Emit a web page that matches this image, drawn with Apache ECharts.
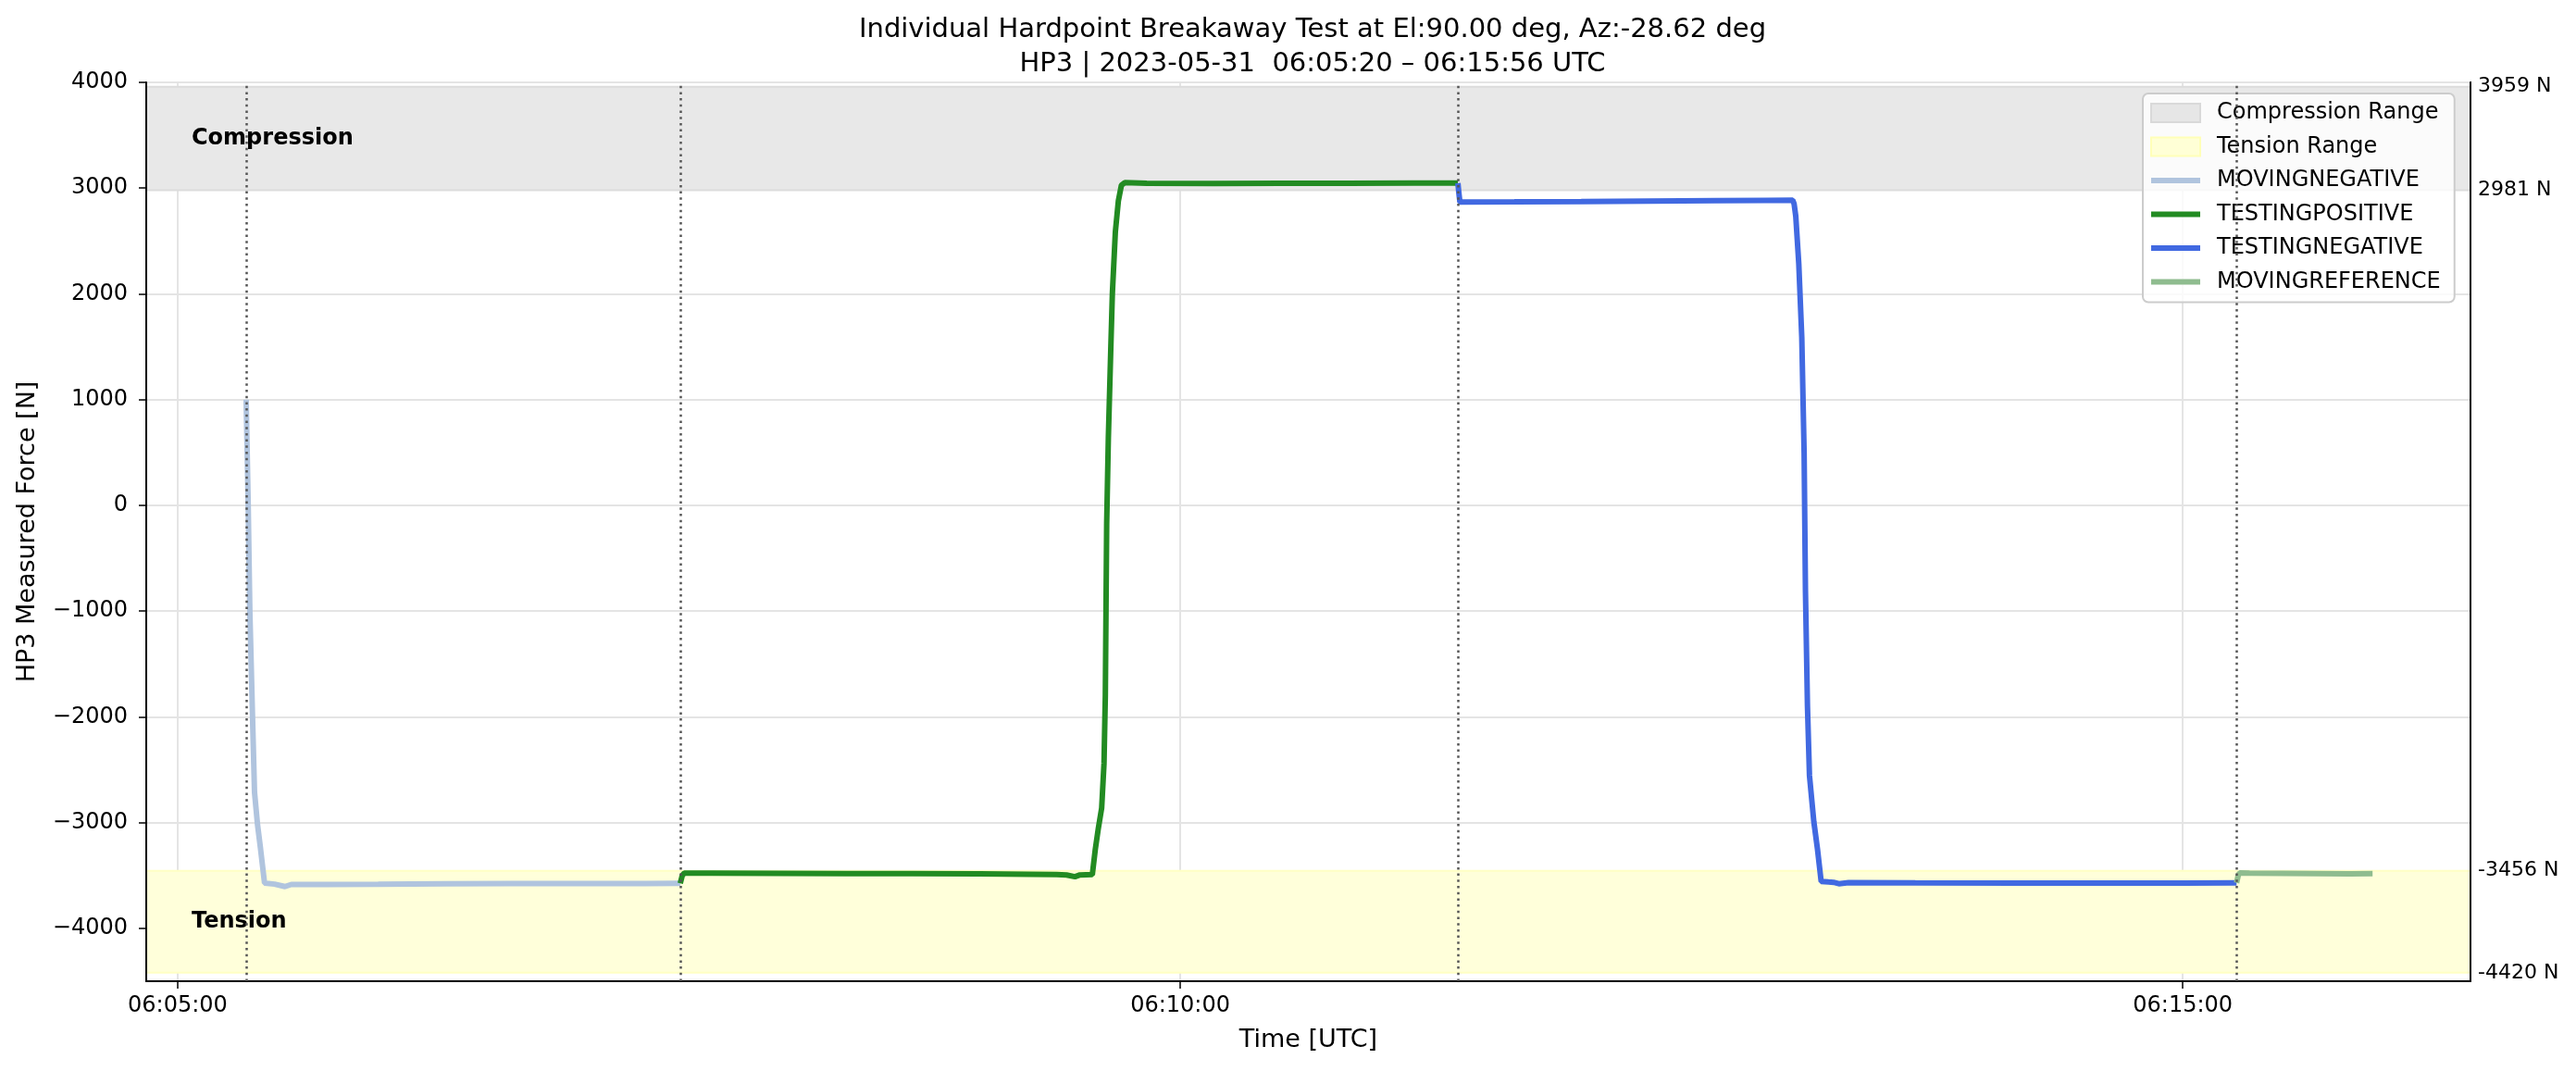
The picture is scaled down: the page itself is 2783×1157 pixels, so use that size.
<!DOCTYPE html>
<html><head><meta charset="utf-8">
<script src="https://cdn.jsdelivr.net/npm/echarts@6/dist/echarts.min.js"></script>
<style>html,body{margin:0;padding:0;background:#fff}#c{width:2783px;height:1157px}</style>
</head><body><div id="c"></div>
<script>
// Time values are seconds after 06:05:00 UTC
const baseClock = '06:05:00';
const xTicks = [0, 300, 600];
const yTicks = [-4000, -3000, -2000, -1000, 0, 1000, 2000, 3000, 4000];
const rangeLabels = [3959, 2981, -3456, -4420];
const compressionRange = [2981, 3959];
const tensionRange = [-4420, -3456];
const phaseBounds = [20.5, 150.4, 383.1, 616.1];

const movingNegT = [20.5, 21.1, 21.6, 22.4, 23.0, 23.9, 24.8, 26.0, 29, 32.1, 34, 45, 60, 80, 100, 120, 140, 150.4];
const movingNegF = [1000, 21, -1004, -1995, -2713, -3020, -3248, -3572, -3582, -3605, -3585, -3585, -3583, -3578, -3576, -3577, -3576, -3575];

const testPosT = [150.4, 151.0, 151.6, 160, 180, 200, 220, 240, 255, 263, 266, 268.5, 270, 273.7, 274.6, 275.5, 276.5, 277.2, 277.6, 277.8, 278.0, 278.5, 279.2, 279.7, 280.6, 281.5, 282.4, 283.4, 290, 310, 330, 350, 370, 383.1];
const testPosF = [-3575, -3500, -3478, -3478, -3480, -3482, -3483, -3485, -3488, -3492, -3496, -3512, -3495, -3492, -3252, -3055, -2862, -2442, -1793, -978, -172, 639, 1450, 2004, 2589, 2881, 3027, 3052, 3045, 3044, 3045, 3046, 3047, 3047];

const testNegT = [383.1, 383.4, 383.7, 400, 420, 440, 460, 475, 483.3, 483.7, 484.2, 485.1, 486.0, 486.7, 487.1, 487.7, 488.3, 489.6, 490.7, 491.8, 494, 495.5, 497.1, 500, 520, 550, 580, 600, 616.1];
const testNegF = [3047, 2950, 2868, 2870, 2873, 2878, 2882, 2884, 2885, 2853, 2735, 2287, 1590, 499, -810, -1898, -2554, -2990, -3252, -3557, -3562, -3565, -3578, -3568, -3570, -3572, -3572, -3572, -3570];

const movingRefT = [616.1, 616.6, 617.0, 620, 630, 640, 650, 656.8];
const movingRefF = [-3570, -3500, -3476, -3478, -3480, -3482, -3484, -3482];

const FONT = 'DejaVu Sans';
const LINE_ICON = 'path://M0,0L53,0L53,6L0,6Z';
function zip(a, b) { return a.map((v, i) => [v, b[i]]); }
function clock(t) {
  const p = baseClock.split(':').map(Number);
  let s = Math.round(p[0] * 3600 + p[1] * 60 + p[2] + t);
  const h = Math.floor(s / 3600), m = Math.floor((s % 3600) / 60), ss = s % 60;
  const f = n => String(n).padStart(2, '0');
  return f(h) + ':' + f(m) + ':' + f(ss);
}

const chart = echarts.init(document.getElementById('c'), null, {renderer: 'canvas'});
const option = {
  animation: false,
  backgroundColor: '#fff',
  textStyle: {fontFamily: FONT},
  title: {
    text: 'Individual Hardpoint Breakaway Test at El:90.00 deg, Az:-28.62 deg\nHP3 | 2023-05-31  06:05:20 – 06:15:56 UTC',
    left: 1413, top: 9, textAlign: 'center',
    textStyle: {fontFamily: FONT, fontSize: 29, fontWeight: 'normal', color: '#000', lineHeight: 37, align: 'center'}
  },
  grid: {left: 158, top: 89, width: 2511, height: 971, show: true, borderColor: '#000', borderWidth: 2, backgroundColor: 'transparent', containLabel: false},
  legend: {
    orient: 'vertical', left: 2315, top: 101,
    padding: [9, 15, 10, 8],
    itemWidth: 53, itemHeight: 20, itemGap: 12.5,
    backgroundColor: 'rgba(255,255,255,0.8)', borderColor: '#cccccc', borderWidth: 2, borderRadius: 6,
    selectedMode: false,
    textStyle: {fontFamily: FONT, fontSize: 24, color: '#000', lineHeight: 24, padding: [0, 0, 0, 13]},
    data: [
      {name: 'Compression Range', icon: 'rect', itemStyle: {color: '#e6e6e6', borderColor: '#d9d9d9', borderWidth: 2}},
      {name: 'Tension Range', icon: 'rect', itemStyle: {color: '#ffffd6', borderColor: '#ffffb8', borderWidth: 2}},
      {name: 'MOVINGNEGATIVE', icon: LINE_ICON, itemStyle: {color: '#b0c4de', borderWidth: 0}},
      {name: 'TESTINGPOSITIVE', icon: LINE_ICON, itemStyle: {color: '#228b22', borderWidth: 0}},
      {name: 'TESTINGNEGATIVE', icon: LINE_ICON, itemStyle: {color: '#4169e1', borderWidth: 0}},
      {name: 'MOVINGREFERENCE', icon: LINE_ICON, itemStyle: {color: '#8fbc8f', borderWidth: 0}}
    ]
  },
  xAxis: {
    type: 'value', min: -9.4, max: 686.1, z: 1,
    axisLine: {show: true, onZero: false, lineStyle: {color: '#000', width: 2}},
    axisTick: {show: true, customValues: xTicks, length: 8, lineStyle: {color: '#000', width: 1.5}},
    axisLabel: {customValues: xTicks, formatter: v => clock(v), fontFamily: FONT, fontSize: 24, color: '#000', margin: 15},
    splitLine: {show: true, lineStyle: {color: '#e4e4e4', width: 2}},
    name: 'Time [UTC]', nameLocation: 'middle', nameGap: 50,
    nameTextStyle: {fontFamily: FONT, fontSize: 27, color: '#000'}
  },
  yAxis: [
    {
      type: 'value', min: -4500, max: 4000, z: 1,
      axisLine: {show: true, onZero: false, lineStyle: {color: '#000', width: 2}},
      axisTick: {show: true, customValues: yTicks, length: 8, lineStyle: {color: '#000', width: 1.5}},
      axisLabel: {customValues: yTicks, formatter: v => (v < 0 ? '\u2212' + Math.abs(v) : String(v)), fontFamily: FONT, fontSize: 24, color: '#000', margin: 20},
      splitLine: {show: true, lineStyle: {color: '#e4e4e4', width: 2}},
      name: 'HP3 Measured Force [N]', nameLocation: 'middle', nameGap: 115, nameRotate: 90,
      nameTextStyle: {fontFamily: FONT, fontSize: 27, color: '#000'}
    },
    {
      type: 'value', min: -4500, max: 4000, position: 'right', z: 1,
      axisLine: {show: true, onZero: false, lineStyle: {color: '#000', width: 2}},
      axisTick: {show: false},
      axisLabel: {customValues: rangeLabels, formatter: v => v + ' N', fontFamily: FONT, fontSize: 22, color: '#000', margin: 8},
      splitLine: {show: false}
    }
  ],
  series: [
    {
      name: 'Compression Range', type: 'line', data: [], z: 0,
      itemStyle: {color: '#e6e6e6'}, lineStyle: {color: '#e6e6e6'},
      markArea: {
        silent: true,
        itemStyle: {color: '#e8e8e8', borderColor: '#dcdcdc', borderWidth: 2},
        label: {show: true, position: 'insideLeft', distance: 50, formatter: 'Compression', fontFamily: FONT, fontSize: 24, fontWeight: 'bold', color: '#000'},
        data: [[{yAxis: compressionRange[0]}, {yAxis: compressionRange[1]}]]
      }
    },
    {
      name: 'Tension Range', type: 'line', data: [], z: 0,
      itemStyle: {color: '#ffffd6'}, lineStyle: {color: '#ffffd6'},
      markArea: {
        silent: true,
        itemStyle: {color: '#ffffda', borderColor: '#ffffc4', borderWidth: 2},
        label: {show: true, position: 'insideLeft', distance: 50, formatter: 'Tension', fontFamily: FONT, fontSize: 24, fontWeight: 'bold', color: '#000'},
        data: [[{yAxis: tensionRange[0]}, {yAxis: tensionRange[1]}]]
      }
    },
    {name: 'MOVINGNEGATIVE', type: 'line', symbol: 'none', z: 2, data: zip(movingNegT, movingNegF),
      itemStyle: {color: '#b0c4de'}, lineStyle: {color: '#b0c4de', width: 6}},
    {name: 'TESTINGPOSITIVE', type: 'line', symbol: 'none', z: 2, data: zip(testPosT, testPosF),
      itemStyle: {color: '#228b22'}, lineStyle: {color: '#228b22', width: 6}},
    {name: 'TESTINGNEGATIVE', type: 'line', symbol: 'none', z: 2, data: zip(testNegT, testNegF),
      itemStyle: {color: '#4169e1'}, lineStyle: {color: '#4169e1', width: 6}},
    {name: 'MOVINGREFERENCE', type: 'line', symbol: 'none', z: 2, data: zip(movingRefT, movingRefF),
      itemStyle: {color: '#8fbc8f'}, lineStyle: {color: '#8fbc8f', width: 6}},
    {
      name: 'phases', type: 'line', data: [], z: 3,
      markLine: {
        silent: true, symbol: ['none', 'none'], label: {show: false},
        lineStyle: {color: '#555', width: 2.5, type: [2.5, 4.2]},
        data: phaseBounds.map(x => ({xAxis: x}))
      }
    }
  ]
};
chart.setOption(option);
</script></body></html>
